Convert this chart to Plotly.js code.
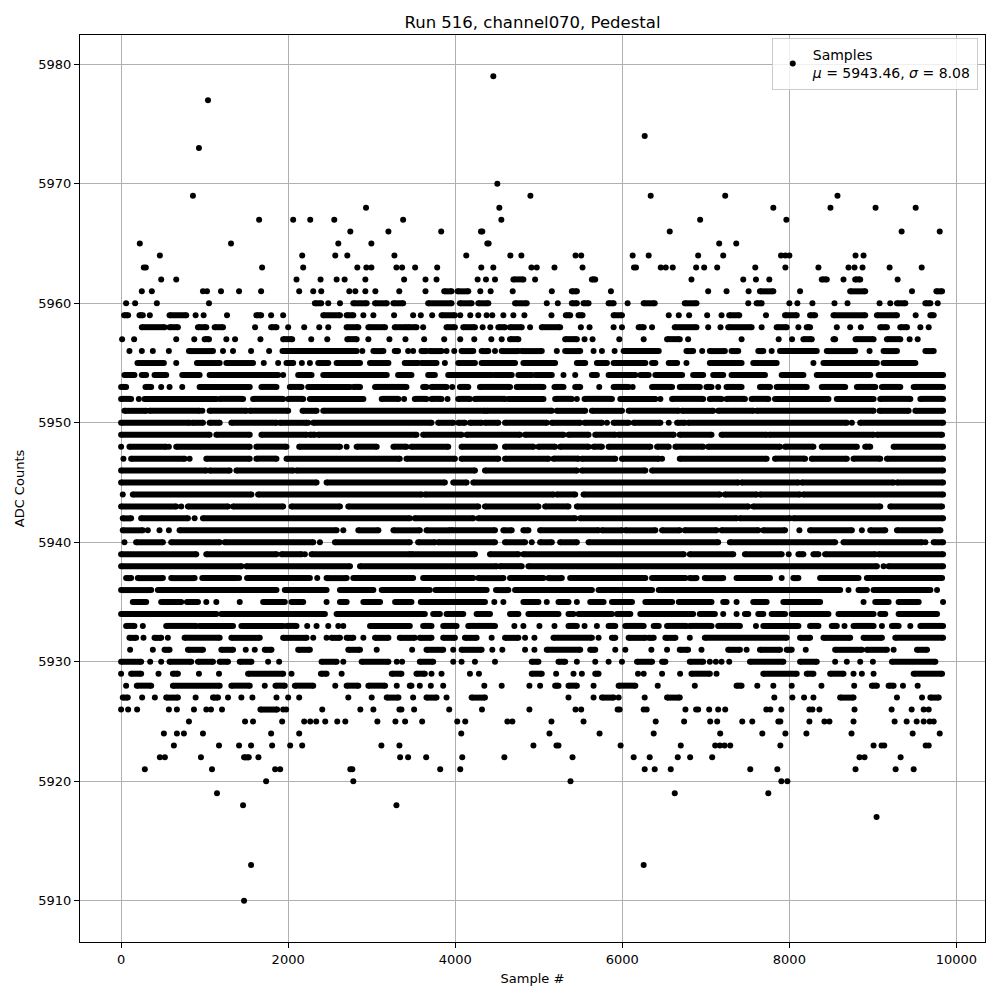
<!DOCTYPE html>
<html>
<head>
<meta charset="utf-8">
<script src="https://cdn.plot.ly/plotly-3.0.1.min.js"></script>
<style>html,body{margin:0;padding:0;background:#fff;}#chart{width:1000px;height:1000px;}</style>
</head>
<body>
<div id="chart"></div>
<script>
// Samples, per ADC level.
// A plain number is one isolated sample (sample #); a pair [a, b] is a run of
// consecutive overlapping samples from sample a to sample b at that level.
const lv5979 = [4456];
const lv5977 = [1040];
const lv5974 = [6268];
const lv5973 = [932];
const lv5970 = [4504];
const lv5969 = [860, 4900, 6340, 7232, 8576];
const lv5968 = [2932, 4528, 7808, 8492, 9032, 9512];
const lv5967 = [1652, 2060, 2264, 2552, 3376, 4552, 6932, 7964];
const lv5966 = [2744, 3200, 3832, 4308, 4324, 6568, 9344, 9800];
const lv5965 = [224, 1316, 2600, 2996, 4384, 4400, 7160, 7364];
const lv5964 = [464, 2168, 2564, 2708, 3272, 4132, 4660, 4792, 5440, 5508, 6124, 6316, 6908, 7208, 7900, 7952, 8000, 8792, 8888];
const lv5963 = [272, 296, 1688, 2180, 2828, 2936, 2996, 3296, 3364, 3520, 3784, 4312, 4456, 4912, 4976, 5188, 5524, 6140, 6164, 6460, 6520, 6604, 6884, 6980, 7136, 7592, 7952, 8348, 8708, 8780, 8876, 9200, 9584];
const lv5962 = [480, 660, 2100, 2388, 2580, 2676, 2924, 3388, 3644, 3776, 4268, 4368, 4476, [4696, 4816], 4956, [5636, 5676], 6828, 7448, 7600, 7760, [8388, 8448], 8648, [8788, 8848], 9296];
const lv5961 = [248, 368, 980, 1028, 1196, 1412, 1676, 2132, 2300, 2396, 2732, 2804, 2924, 3044, 3330, 3644, [3868, 3956], [4028, 4156], 4300, 4424, 4688, 5156, [5396, 5456], 5864, 7028, 7248, 7512, [7648, 7808], 8128, [8728, 8908], 9468, [9760, 9828]];
const lv5960 = [60, 168, 428, 1052, [2320, 2396], 2480, 2620, [2780, 2940], [3040, 3180], [3260, 3376], [3676, 3956], [4056, 4196], [4276, 4396], [4716, 4856], 5096, 5228, [5396, 5456], [5536, 5596], [5836, 5896], 6064, [6256, 6388], [6748, 6888], 7508, [7608, 7668], 8000, 8096, 8276, 8540, 8696, 9080, 9208, [9288, 9388], [9628, 9688], 9776];
const lv5959 = [[36, 84], [220, 260], 344, [580, 780], 892, 988, 1268, [1620, 1676], 1796, 1940, [2420, 2620], [2700, 2780], 2900, 3020, 3268, 3496, 3588, 3724, [3836, 3996], 4060, 4180, 4276, 4376, 4444, 4576, 4696, 4828, 5152, [5324, 5376], [5476, 5524], [5896, 5996], 6556, 6676, 6800, 7016, 7188, [7280, 7400], 7720, [7948, 8088], [8248, 8308], [8528, 8908], [9048, 9288], 9512, [9688, 9728]];
const lv5958 = [[248, 520], [580, 680], [920, 1020], [1120, 1220], 1604, [1796, 1860], 2000, 2192, 2372, 2480, [2700, 2840], [2960, 3160], [3276, 3416], [3436, 3536], 3616, [3896, 3996], [4096, 4236], 4328, 4420, [4516, 4596], [4656, 4796], 4896, [5036, 5256], 5504, 5608, 5896, 5996, [6196, 6256], 6356, [6628, 6888], 7028, 7176, [7268, 7548], 7668, [7848, 7968], 8108, [8208, 8248], 8568, 8728, 8856, [9088, 9168], [9328, 9408], 9568, 9668];
const lv5957 = [12, 156, 660, 876, [1000, 1052], 1260, 1364, 1668, [1940, 2048], 2276, 2468, [2708, 2820], 2960, 3212, 3404, 3628, 3868, 4060, 4228, 4432, 4556, [4656, 4756], [5316, 5456], 5548, 5644, 5964, 6256, [6536, 6688], 6788, 7428, 7872, 8032, [8168, 8268], [8528, 8548], [8792, 9008], [9168, 9328], 9440, 9536];
const lv5956 = [100, 248, 380, 572, [812, 1100], 1220, 1340, 1556, 1772, [1932, 2820], 2888, [3020, 3140], [3276, 3316], 3436, 3496, [3596, 3656], [3696, 3836], 3896, 3988, [4076, 4216], [4316, 4396], 4476, [4556, 4756], [4796, 5036], 5216, [5316, 5496], 5656, 5756, 5908, [6016, 6436], [6768, 6848], 6956, [7048, 7228], [7308, 7388], [7628, 7688], 7788, [7888, 8328], [8448, 8788], 8960, [9128, 9288], [9628, 9728]];
const lv5955 = [[196, 512], 660, [908, 1180], [1260, 1580], 1708, 1880, [1980, 2060], 2164, 2260, [2360, 2480], [2580, 2860], [2980, 3200], [3396, 3556], [3596, 3776], 3876, [4036, 4236], [4316, 4716], [4816, 5196], [5456, 5556], [5696, 5816], [5896, 6276], [6356, 6396], [6556, 6656], 6768, [7048, 7428], [7568, 7848], 8288, [8408, 9048], [9128, 9508]];
const lv5954 = [[40, 160], [248, 300], [400, 540], [732, 940], [1060, 1880], 1940, [2120, 2280], [2420, 3180], [3316, 3476], [3676, 3756], [3916, 4436], [4468, 4676], [4756, 4916], [4956, 5156], 5296, 5436, [5636, 5696], [5836, 6156], [6216, 6316], [6396, 6716], [6848, 6968], [7088, 7208], [7308, 7708], [7908, 8168], [8328, 8968], [9068, 9840]];
const lv5953 = [[0, 60], [292, 360], 480, 580, 732, [940, 1540], [1680, 1860], [2020, 2160], [2240, 2740], [2780, 2860], [3040, 3416], [3616, 3656], [3716, 3896], 3964, [4056, 4156], [4296, 4656], [4736, 5056], [5188, 5296], [5436, 5496], 5724, [5896, 6076], 6124, [6356, 6596], [6688, 6928], [7008, 7068], 7148, [7248, 7428], [7648, 7768], [7848, 8208], [8388, 8668], [8808, 9028], [9108, 9328], [9488, 9840]];
const lv5952 = [[0, 120], 212, [280, 1140], [1180, 1460], [1580, 1940], [2000, 2180], [2260, 2900], [3120, 3320], 3388, [3516, 3656], [3716, 3836], 3908, [4036, 4176], [4236, 4596], [4636, 5056], [5196, 5396], 5456, [5548, 5876], [5976, 6396], 6456, [6596, 6968], [7048, 7188], [7248, 7468], [7548, 7748], [7828, 8468], [8568, 9008], [9088, 9448], [9568, 9840]];
const lv5951 = [[40, 300], [340, 940], 972, [1060, 1500], [1540, 2000], [2172, 2340], [2420, 4356], [4376, 5156], [5216, 5556], [5636, 5996], [6076, 6676], [6716, 7088], [7148, 7568], [7608, 9008], [9080, 9428], [9508, 9840]];
const lv5950 = [[0, 820], [852, 980], [1060, 1180], [1320, 1860], [1900, 2220], 2240, [2300, 3716], [3796, 3976], [4036, 4116], [4176, 4316], [4356, 4516], [4596, 5096], [5156, 5496], [5548, 5756], 5816, [5896, 6076], [6136, 6456], 6556, [6656, 6748], [6788, 8688], 8748, [8848, 9840]];
const lv5949 = [[0, 1060], [1140, 1540], [1680, 2220], [2260, 2320], [2360, 3536], [3616, 4076], [4136, 4776], [4836, 5296], [5356, 5596], [5676, 5916], [5956, 6616], [6688, 7068], [7188, 7728], [7760, 9008], [9048, 9828]];
const lv5948 = [0, [100, 540], 572, [660, 1540], [1620, 1980], [2132, 2620], 2700, [2820, 3060], [3260, 3416], [3476, 3916], [4076, 4476], [4596, 4936], [4996, 5196], [5256, 5596], [5656, 5756], [5836, 6336], [6416, 6556], [6636, 6968], [7028, 7888], [7948, 8288], [8388, 8808], [8908, 8968], [9248, 9840]];
const lv5947 = [28, [120, 760], 820, [1020, 1540], [1620, 1860], [1980, 3336], [3416, 3996], [4076, 4516], [4596, 5116], [5176, 5476], [5516, 5916], [5996, 6436], 6476, [6688, 7728], [7828, 8188], [8268, 8688], [8768, 9088], [9168, 9840]];
const lv5946 = [[0, 1020], [1060, 1300], [1380, 2060], [2100, 4236], [4356, 5456], [5516, 6276], [6356, 9840]];
const lv5945 = [[0, 2340], [2460, 3876], [3976, 4136], [4216, 7388], [7428, 8108], [8148, 9248], [9288, 9840]];
const lv5944 = [20, [140, 1560], [1640, 3596], [3636, 5176], [5216, 5436], [5536, 7168], [7228, 7608], [7648, 8128], [8168, 9840]];
const lv5943 = [[0, 660], 720, [800, 1280], [1340, 1940], [2040, 2620], [2720, 4276], [4356, 4996], [5076, 5356], [5456, 7508], [7568, 9088], [9208, 9828]];
const lv5942 = [[20, 120], [240, 800], 880, [980, 3456], [3516, 4216], [4276, 5436], [5496, 7368], [7408, 8008], [8048, 9840]];
const lv5941 = [[20, 260], 320, 460, 572, [700, 2580], 2660, [2840, 3080], [3260, 3576], [3656, 3936], [3956, 4476], [4576, 4676], [4816, 4876], [5016, 5716], [5756, 5996], [6036, 6396], [6476, 6688], [6748, 7128], [7188, 7628], [7688, 7948], 8120, [8248, 8748], 8868, [8968, 9148], [9288, 9808]];
const lv5940 = [40, [180, 500], [600, 1180], [1240, 2300], 2380, [2560, 3456], [3556, 3756], [3796, 4476], [4596, 4836], 4916, [5016, 5156], [5256, 5456], [5596, 7148], [7288, 8548], [8648, 9588], 9628, [9728, 9840]];
const lv5939 = [[0, 900], [1020, 1860], [1920, 2160], 2200, [2280, 3456], [3476, 4236], [4416, 4756], [4816, 6736], [6808, 7328], [7468, 7908], 7992, [8108, 8168], [8288, 8348], [8428, 9028], [9068, 9840]];
const lv5938 = [[0, 1440], [1500, 2740], [2860, 4496], [4536, 4796], [4876, 9048], 9128, [9188, 9840]];
const lv5937 = [[60, 120], [200, 500], [600, 880], [972, 1380], 1412, [1508, 2260], 2348, [2460, 2700], [2780, 3496], [3616, 4216], [4276, 4576], [4656, 5056], [5116, 5276], [5376, 6276], [6356, 6756], [6808, 6888], [6988, 7208], [7368, 7768], 7908, [8048, 8108], [8368, 8828], [8928, 9828]];
const lv5936 = [[0, 360], [440, 1860], [1960, 2460], [2620, 3020], [3120, 3696], [3764, 4376], [4488, 4636], [4716, 5636], [5716, 6356], [6436, 8608], 8708, [8828, 8928], [9008, 9688], 9768];
const lv5935 = [[140, 300], [480, 720], [788, 920], 1020, 1140, 1420, [1700, 1960], [2040, 2180], 2460, [2620, 2700], [2900, 3100], [3280, 3476], [3588, 4356], 4468, 4576, [4816, 4996], 5096, [5236, 5356], 5456, [5616, 5776], [5876, 6116], [6276, 6596], [6676, 7068], [7208, 7248], 7368, [7568, 7728], [7928, 8368], 8888, [9028, 9188], [9308, 9548], 9840];
const lv5934 = [[0, 1140], [1200, 2440], [2580, 3636], [3736, 3816], [3896, 4096], [4256, 4416], [4656, 4756], [4876, 5236], [5356, 5416], [5476, 5876], [5936, 6096], [6216, 6848], [6928, 7108], 7208, 7368, [7468, 7508], [7628, 7688], [7788, 7948], [8028, 8468], [8588, 9008], [9088, 9148], [9308, 9768]];
const lv5933 = [[60, 160], 260, [540, 900], [940, 1340], [1440, 1940], [1980, 2100], 2228, 2340, 2480, 2600, 2660, [2980, 3456], [3616, 3716], [3856, 4016], [4156, 4476], 4708, 4816, 5008, 5188, [5356, 5456], 5548, 5696, [5836, 5916], [6036, 6256], [6376, 6436], [6536, 6768], [6808, 7068], [7148, 7408], 7600, [7688, 8108], [8248, 8348], [8508, 8568], 8660, [8768, 9008], 9108, [9228, 9308], 9448, [9568, 9840]];
const lv5932 = [[100, 180], 268, [400, 480], 560, [760, 1180], [1320, 1660], [1940, 2220], 2300, 2460, [2520, 2620], [2700, 2780], 2900, [3040, 3200], [3336, 3516], [3576, 3716], [3856, 3996], [4116, 4256], 4436, [4596, 4756], 4836, 4948, [5176, 5636], 5716, [5876, 5916], [6076, 6276], [6316, 6376], [6516, 6636], 6808, [6988, 7968], [8128, 8248], [8408, 8728], [8888, 9108], [9268, 9840]];
const lv5931 = [108, 380, [520, 580], [800, 980], [1200, 1340], 1492, 1600, [1720, 1800], [2120, 2260], [2720, 2860], 3060, 3484, [3656, 3856], 3976, [4076, 4316], 4444, 4564, 4836, 4948, [5096, 5496], [5616, 5676], 5916, 6036, 6348, 6536, [6688, 6788], 6948, [7268, 7408], 7488, [7648, 7888], [7968, 8028], 8196, [8548, 8868], [8928, 9168], 9248, [9528, 9648]];
const lv5930 = [[0, 240], 348, 480, [580, 840], [920, 1100], [1180, 1280], [1420, 1560], 1760, 1892, [2400, 2580], 2660, [2880, 3200], 3300, 3364, [3576, 3736], 3976, 4076, 4236, 4476, [4916, 4996], [5236, 5316], 5456, 5676, 5836, 5996, [6176, 6356], [6476, 6516], [6808, 6968], 7048, 7120, 7188, 7280, [7528, 7928], [8128, 8328], 8548, 8688, 8848, 9000, [9228, 9748]];
const lv5929 = [0, [120, 240], 448, [620, 680], 932, 1172, [1520, 1940], 2040, [2392, 2460], 2640, [3240, 3356], [3536, 3636], 3716, 3836, 4176, 4284, [4916, 5036], 5208, 5416, 5516, [5676, 5716], 6188, 6256, 6476, 6692, [6828, 7048], 7128, [7688, 8088], [8208, 8288], [8488, 8648], 8768, 8868, 9008, [9488, 9828]];
const lv5928 = [60, [188, 360], [620, 1180], [1320, 1540], 1720, [1848, 1960], [2080, 2300], 2564, [2700, 2840], [2960, 3160], 3300, [3456, 3476], 3576, 3708, 3856, 4348, 4556, 4888, 5016, [5196, 5236], [5356, 5456], 5656, [5956, 6156], 6424, 6868, [7368, 7428], 7616, 7808, 8028, 8384, 8776, [8988, 9048], [9188, 9248], 9360, 9536];
const lv5927 = [[20, 80], 252, 404, [540, 680], 892, [1100, 1160], 1280, 1440, 1572, 1860, 2000, 2132, 2720, 3000, [3180, 3320], 3496, [3656, 3776], 3896, [4196, 4356], 5356, 5656, [5756, 5896], 5956, 6268, [6536, 6688], 7820, 8036, 8176, 8288, [8608, 8768], 9288, 9588, [9688, 9788]];
const lv5926 = [0, 84, 192, 572, 668, 872, 1020, 1076, 1208, [1668, 1868], 1940, 1976, 2408, 2864, 3020, 3332, 3356, 3508, 3928, 4320, 4888, 5440, 5508, 5944, 5968, 6256, 6292, 6756, 6884, 6908, 7040, 7148, 7232, 7724, 7772, 7904, 8240, 8276, 8360, 8780, 9224, 9464, 9608, 9668];
const lv5925 = [812, 1484, 1580, 1928, 2192, 2264, 2336, 2444, 2588, 2684, 3068, 3284, 3400, 3604, 4024, 4120, 4624, 4684, 5152, 5536, 6400, 6740, 7052, 7136, 7436, 7556, 7868, 7892, 8240, 8420, 8480, 8768, 9260, 9404, 9524, 9608, 9680, 9728];
const lv5924 = [512, 668, 752, 980, 1796, 2132, 4072, 5128, 5728, 6376, 7172, 7676, 7952, 8204, 8744, 9476, 9800];
const lv5923 = [632, 1172, 1412, 1556, 1808, 2024, 2168, 3116, 3332, 4936, 5212, 5236, 5980, 6700, 7112, 7168, 7224, 7292, 7892, 9008, 9104, 9136, 9632, 9668];
const lv5922 = [464, 524, 956, [1472, 1528], 1644, 3340, 3436, 3652, 4084, 4588, 5404, 6136, 6328, 6664, 6812, 7076, 8840, 8900, 9332];
const lv5921 = [284, 1088, 1844, 1904, 2744, 2768, 3820, 4060, 6268, 6388, 6580, 7532, 7856, 8792, 9272, 9488];
const lv5920 = [1736, 2780, 5380, 7904, 7976];
const lv5919 = [1148, 6628, 7748];
const lv5918 = [1460, 3296];
const lv5917 = [9044];
const lv5913 = [1556, 6256];
const lv5910 = [1472];

const levels = [5979, 5977, 5974, 5973, 5970, 5969, 5968, 5967, 5966, 5965, 5964, 5963, 5962, 5961, 5960, 5959, 5958, 5957, 5956, 5955, 5954, 5953, 5952, 5951, 5950, 5949, 5948, 5947, 5946, 5945, 5944, 5943, 5942, 5941, 5940, 5939, 5938, 5937, 5936, 5935, 5934, 5933, 5932, 5931, 5930, 5929, 5928, 5927, 5926, 5925, 5924, 5923, 5922, 5921, 5920, 5919, 5918, 5917, 5913, 5910];
const levelSamples = [lv5979, lv5977, lv5974, lv5973, lv5970, lv5969, lv5968, lv5967, lv5966, lv5965, lv5964, lv5963, lv5962, lv5961, lv5960, lv5959, lv5958, lv5957, lv5956, lv5955, lv5954, lv5953, lv5952, lv5951, lv5950, lv5949, lv5948, lv5947, lv5946, lv5945, lv5944, lv5943, lv5942, lv5941, lv5940, lv5939, lv5938, lv5937, lv5936, lv5935, lv5934, lv5933, lv5932, lv5931, lv5930, lv5929, lv5928, lv5927, lv5926, lv5925, lv5924, lv5923, lv5922, lv5921, lv5920, lv5919, lv5918, lv5917, lv5913, lv5910];

const titleText = 'Run 516, channel070, Pedestal';
const legendText = 'Samples<br><i>μ</i> = 5943.46, <i>σ</i> = 8.08';
const xTicks = [0, 2000, 4000, 6000, 8000, 10000];
const yTicks = [5910, 5920, 5930, 5940, 5950, 5960, 5970, 5980];

const dotX = [], dotY = [], runX = [], runY = [];
levels.forEach((lv, i) => {
  levelSamples[i].forEach(s => {
    if (Array.isArray(s)) {
      runX.push(s[0], s[1], null);
      runY.push(lv, lv, null);
    } else {
      dotX.push(s);
      dotY.push(lv);
    }
  });
});

const font = 'DejaVu Sans, Liberation Sans, sans-serif';

const traces = [
  {
    type: 'scatter', mode: 'markers', x: dotX, y: dotY,
    name: legendText,
    marker: {color: 'black', size: 6, line: {width: 0}},
    showlegend: true, hoverinfo: 'x+y'
  },
  {
    type: 'scatter', mode: 'lines+markers', x: runX, y: runY,
    connectgaps: false,
    line: {color: 'black', width: 6},
    marker: {color: 'black', size: 6, line: {width: 0}},
    showlegend: false, hoverinfo: 'x+y'
  }
];

const axisCommon = {
  showline: true, mirror: true, linecolor: 'black', linewidth: 1,
  ticks: 'outside', ticklen: 5, tickwidth: 1, tickcolor: 'black',
  showgrid: true, gridcolor: '#b0b0b0', gridwidth: 1,
  zeroline: false, automargin: false,
  tickfont: {family: font, size: 13, color: 'black'}
};

const layout = {
  width: 1000, height: 1000,
  margin: {l: 80, r: 15, t: 35, b: 58},
  paper_bgcolor: 'white', plot_bgcolor: 'white',
  font: {family: font, color: 'black'},
  title: {text: titleText, x: 0.5, xref: 'paper', xanchor: 'center', y: 0.978, yanchor: 'middle',
          font: {family: font, size: 16.5, color: 'black'}},
  xaxis: Object.assign({}, axisCommon, {
    range: [-492, 10342], tickmode: 'array', tickvals: xTicks, ticktext: xTicks.map(String),
    title: {text: 'Sample #', font: {family: font, size: 13, color: 'black'}, standoff: 8}
  }),
  yaxis: Object.assign({}, axisCommon, {
    range: [5906.55, 5982.45], tickmode: 'array', tickvals: yTicks, ticktext: yTicks.map(String),
    title: {text: 'ADC Counts', font: {family: font, size: 13, color: 'black'}, standoff: 10}
  }),
  legend: {
    x: 0.992, y: 0.997, xanchor: 'right', yanchor: 'top',
    bgcolor: 'rgba(255,255,255,0.8)', bordercolor: '#cccccc', borderwidth: 1,
    font: {family: font, size: 14, color: 'black'}, itemwidth: 30
  },
  showlegend: true
};

Plotly.newPlot('chart', traces, layout, {displayModeBar: false, staticPlot: true});
</script>
</body>
</html>
